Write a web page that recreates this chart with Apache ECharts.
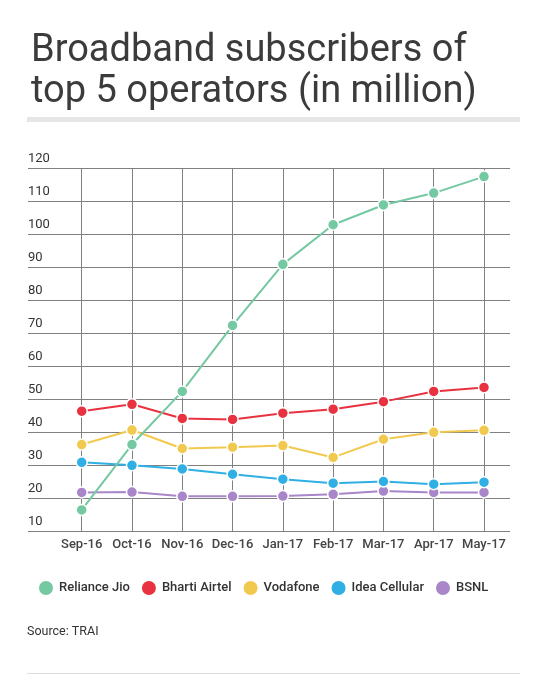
<!DOCTYPE html>
<html>
<head>
<meta charset="utf-8">
<script src="https://cdn.jsdelivr.net/npm/echarts@6/dist/echarts.min.js"></script>
<style>
html, body { margin: 0; padding: 0; background: #fff; }
#main { width: 547px; height: 678px; }
</style>
</head>
<body>
<div id="main"></div>
<script>
var months = ['Sep-16', 'Oct-16', 'Nov-16', 'Dec-16', 'Jan-17', 'Feb-17', 'Mar-17', 'Apr-17', 'May-17'];
var operators = ['Reliance Jio', 'Bharti Airtel', 'Vodafone', 'Idea Cellular', 'BSNL'];
var colors = ['#74c8a2', '#e8323f', '#f2c94f', '#2fafe3', '#a985c9'];
var jio = [16.4, 36.2, 52.3, 72.3, 90.8, 102.8, 108.8, 112.4, 117.4];
var airtel = [46.3, 48.4, 44.1, 43.8, 45.7, 46.9, 49.2, 52.3, 53.5];
var vodafone = [36.2, 40.6, 35.0, 35.4, 35.9, 32.3, 37.8, 39.9, 40.5];
var idea = [30.8, 29.9, 28.8, 27.2, 25.7, 24.5, 25.0, 24.2, 24.8];
var bsnl = [21.7, 21.8, 20.5, 20.5, 20.6, 21.1, 22.1, 21.7, 21.7];
var values = [jio, airtel, vodafone, idea, bsnl];

var font = 'Roboto, "Noto Sans", sans-serif';
var myChart = echarts.init(document.getElementById('main'));

myChart.setOption({
    animation: false,
    backgroundColor: '#fff',
    title: {
        text: 'Broadband subscribers of\ntop 5 operators (in million)',
        left: 26,
        top: 26,
        textStyle: {
            fontFamily: font,
            fontSize: 38,
            fontWeight: 'normal',
            lineHeight: 41,
            color: '#3b3b3b'
        }
    },
    legend: {
        data: operators,
        left: 32,
        top: 574,
        icon: 'circle',
        itemWidth: 16,
        itemHeight: 16,
        itemGap: 10,
        textStyle: {
            fontFamily: font,
            fontSize: 13,
            fontWeight: 500,
            color: '#333'
        }
    },
    graphic: [
        { type: 'rect', shape: { x: 27, y: 117, width: 493, height: 5 }, style: { fill: '#e6e6e6' } },
        { type: 'text', left: 27, top: 625, style: { text: 'Source: TRAI', fontFamily: font, fontSize: 12.5, fill: '#333' } },
        { type: 'rect', shape: { x: 27, y: 673, width: 493, height: 1 }, style: { fill: '#dddddd' } }
    ],
    grid: [
        { left: 28, right: 37, top: 168, bottom: 147 },
        { left: 81.7, right: 63, top: 168, bottom: 147 }
    ],
    xAxis: [
        { gridIndex: 0, type: 'value', show: false, min: 0, max: 1 },
        {
            gridIndex: 1,
            type: 'category',
            data: months,
            boundaryGap: false,
            axisLine: { show: false },
            axisTick: { show: false },
            axisLabel: { interval: 0, margin: 7, fontFamily: font, fontSize: 13, fontWeight: 500, color: '#444' },
            splitLine: { show: true, interval: 0, lineStyle: { color: '#808080', width: 1 } }
        }
    ],
    yAxis: [
        {
            gridIndex: 0,
            type: 'value',
            min: 10,
            max: 120,
            interval: 10,
            axisLine: { show: false },
            axisTick: { show: false },
            axisLabel: {
                inside: true,
                margin: 0,
                verticalAlign: 'bottom',
                padding: [0, 0, 3, 0],
                fontFamily: font,
                fontSize: 13,
                color: '#333'
            },
            splitLine: { show: true, lineStyle: { color: '#808080', width: 1 } }
        },
        { gridIndex: 1, type: 'value', min: 10, max: 120, interval: 10, show: false, splitLine: { show: false } }
    ],
    series: operators.map(function (name, i) {
        return {
            name: name,
            type: 'line',
            xAxisIndex: 1,
            yAxisIndex: 1,
            data: values[i],
            z: 10 - i,
            symbol: 'circle',
            symbolSize: 11,
            lineStyle: { color: colors[i], width: 2 },
            itemStyle: { color: colors[i], borderColor: '#fff', borderWidth: 1.5 }
        };
    })
});
</script>
</body>
</html>
